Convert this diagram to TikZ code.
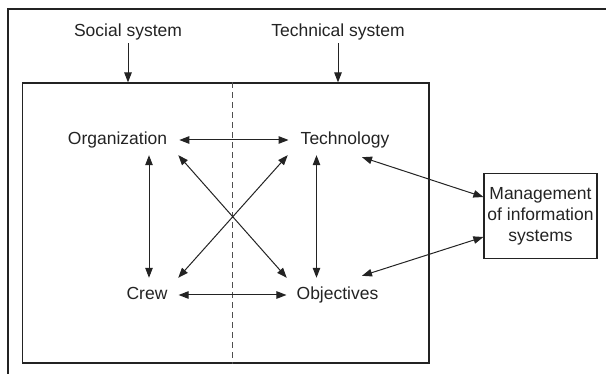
\documentclass[tikz,border=0pt]{standalone}
\usepackage{fontspec}
\setmainfont{Liberation Sans}
\usepackage{tikz}
\usetikzlibrary{arrows.meta, positioning}
\definecolor{inkgray}{RGB}{35,35,35}

\begin{document}
\begin{tikzpicture}[x=1pt, y=-1pt,
    term/.style={font=\fontsize{17.5}{21}\selectfont, text=inkgray, inner sep=2pt, text height=13pt, text depth=4pt},
    boxtext/.style={font=\fontsize{17.5}{21}\selectfont, text=inkgray, align=center, draw=inkgray, line width=1.2pt, inner sep=0pt},
    link/.style={line width=1pt, draw=inkgray, {Triangle[length=10pt,width=7.5pt]}-{Triangle[length=10pt,width=7.5pt]}},
    feed/.style={line width=1pt, draw=inkgray, -{Triangle[length=10pt,width=7.5pt]}}]
    \useasboundingbox (0,0) rectangle (606,374);

    % Outer frame (open to the right and below)
    \draw[line width=1.2pt, inkgray] (606,9) -- (8,9) -- (8,374);

    % System box and the social / technical split
    \node[draw=inkgray, line width=1.2pt, minimum width=406.5, minimum height=280, inner sep=0pt] (sys) at (225.75,223) {};
    \draw[inkgray!80, line width=0.9pt, dash pattern=on 6pt off 4pt] ([shift={(6.5,0)}]sys.north) -- ([shift={(6.5,0)}]sys.south);

    % Subsystem labels
    \node[term] (social) at (128,32.5) {Social system};
    \node[term] (technical) at (338,32.5) {Technical system};
    \draw[feed] (social.south) -- (social.south |- sys.north);
    \draw[feed] (technical.south) -- (technical.south |- sys.north);

    % Four elements
    \node[term] (org) at (117.5,140) {Organization};
    \node[term] (tech) at (345,140) {Technology};
    \node[term] (crew) at (147,295) {Crew};
    \node[term] (obj) at (337.5,295) {Objectives};

    % Management box
    \node[boxtext, minimum width=113, minimum height=85] (mis) at (540.5,216) {Management\\of information\\systems};

    % Links between the elements
    \draw[link, shorten <=10pt, shorten >=10pt] (org.east) -- (tech.west);
    \draw[link, shorten <=9pt, shorten >=8pt] (crew.east) -- (obj.west);
    \draw[link, shorten <=4.5pt, shorten >=6.5pt] ([shift={(2,0)}]crew.north |- org.south) -- ([shift={(2,0)}]crew.north);
    \draw[link, shorten <=4.5pt, shorten >=6.5pt] ([shift={(-21,0)}]obj.north |- tech.south) -- ([shift={(-21,0)}]obj.north);
    \draw[link] ([shift={(9,4.5)}]org.south east) -- ([shift={(-7.7,-6.5)}]obj.north west);
    \draw[link] ([shift={(-10.8,4.5)}]tech.south west) -- ([shift={(8.6,-6.5)}]crew.north east);

    % Links to management
    \draw[link] ([shift={(17,6.5)}]tech.south) -- ([shift={(0,-19)}]mis.west);
    \draw[link] ([shift={(24.5,-8.5)}]obj.north) -- ([shift={(0,21)}]mis.west);
\end{tikzpicture}
\end{document}
